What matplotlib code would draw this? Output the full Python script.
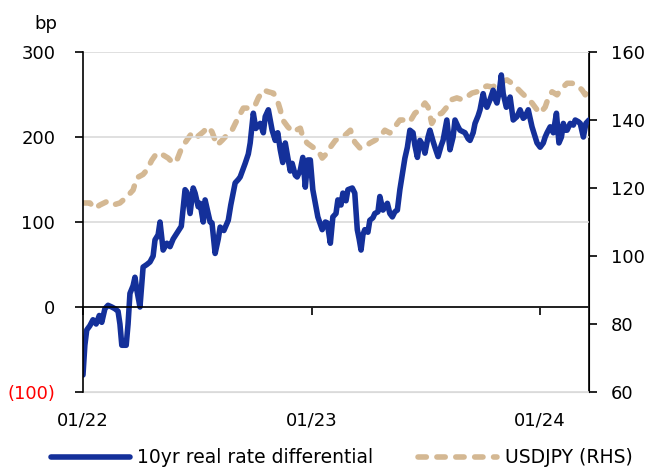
import matplotlib
matplotlib.use("Agg")
import matplotlib.pyplot as plt
import matplotlib.dates as mdates
import numpy as np
import pandas as pd

# 10yr real rate differential (bp), days since 2022-01-01
rate_days = [
    0, 3, 6, 11, 16, 21, 26, 30, 35, 40, 46, 51, 56, 59, 62, 69, 72, 75, 80, 83,
    86, 91, 96, 102, 107, 112, 115, 120, 123, 128, 134, 139, 144, 150, 157, 163,
    166, 171, 176, 179, 184, 187, 192, 195, 200, 203, 206, 211, 216, 219, 225,
    232, 236, 243, 248, 251, 259, 264, 267, 272, 276, 283, 288, 291, 296, 302,
    307, 311, 315, 319, 323, 327, 331, 334, 339, 342, 347, 351, 355, 359, 363,
    367, 371, 375, 382, 387, 390, 395, 399, 404, 407, 412, 415, 420, 423, 430,
    434, 438, 441, 444, 447, 450, 455, 458, 463, 466, 471, 474, 479, 486, 490,
    494, 498, 502, 506, 511, 514, 518, 522, 527, 530, 534, 538, 543, 546, 551,
    554, 559, 562, 567, 572, 575, 581, 586, 591, 594, 599, 602, 610, 615, 618,
    623, 626, 631, 634, 639, 642, 645, 650, 655, 658, 661, 665, 668, 671, 676,
    679, 682, 687, 693, 698, 703, 706, 711, 714, 717, 722, 725, 730, 735, 738,
    741, 746, 751, 756, 760, 764, 767, 770, 773, 778, 783, 786, 791, 794, 799,
    803, 808,
]
rate_values = [
    -80, -45, -27, -22, -15, -20, -10, -18, -2, 2, 0, -2, -5, -20, -45, -45, -20,
    16, 25, 35, 20, 0, 47, 50, 53, 60, 79, 85, 100, 67, 75, 71, 80, 87, 95, 138,
    135, 110, 140, 134, 118, 122, 100, 126, 110, 100, 99, 63, 80, 94, 90, 102,
    120, 146, 150, 153, 169, 180, 193, 228, 210, 216, 205, 224, 232, 208, 196,
    205, 185, 170, 193, 176, 160, 169, 155, 153, 161, 176, 141, 173, 173, 138,
    122, 106, 91, 100, 99, 75, 106, 110, 126, 120, 134, 125, 138, 140, 134, 91,
    80, 67, 85, 91, 88, 102, 105, 110, 112, 130, 114, 122, 110, 106, 112, 114,
    138, 161, 175, 188, 208, 205, 190, 176, 196, 190, 181, 200, 208, 195, 188,
    177, 190, 196, 220, 185, 200, 220, 212, 208, 205, 198, 196, 205, 216, 225,
    232, 251, 240, 235, 244, 255, 245, 240, 255, 273, 251, 235, 240, 247, 220,
    224, 232, 222, 224, 232, 222, 212, 200, 193, 188, 193, 200, 205, 212, 205,
    228, 193, 200, 216, 208, 208, 216, 214, 220, 218, 216, 200, 216, 220,
]

# USDJPY, days since 2022-01-01
fx_days = [
    0, 11, 19, 27, 38, 48, 59, 70, 80, 86, 96, 102, 110, 118, 128, 136, 144,
    150, 158, 166, 174, 182, 192, 200, 206, 214, 222, 230, 238, 246, 256, 267,
    275, 280, 288, 296, 304, 310, 315, 319, 327, 335, 347, 351, 358, 367, 375,
    382, 390, 395, 403, 411, 419, 427, 434, 442, 450, 458, 466, 474, 482, 490,
    498, 506, 514, 522, 530, 538, 546, 551, 557, 565, 573, 581, 589, 597, 605,
    613, 621, 629, 637, 645, 653, 661, 669, 677, 685, 693, 701, 709, 717, 725,
    730, 738, 743, 749, 757, 765, 773, 781, 789, 797, 802, 808,
]
fx_values = [
    115.6, 115.6, 114.0, 115.0, 116.0, 115.0, 115.6, 117.4, 119.4, 123.0, 124.0,
    125.3, 128.2, 130.3, 129.7, 128.8, 127.3, 128.2, 132.0, 134.1, 136.2, 135.0,
    136.5, 138.0, 136.5, 132.6, 134.0, 135.6, 137.0, 140.0, 143.5, 143.5, 144.4,
    146.5, 148.8, 148.3, 147.9, 146.0, 143.0, 140.0, 138.0, 136.5, 137.6, 135.0,
    133.2, 132.0, 131.2, 128.8, 130.3, 132.0, 134.0, 135.0, 135.6, 137.0, 133.5,
    131.8, 132.0, 133.2, 134.0, 135.0, 137.0, 136.2, 138.0, 140.0, 140.0, 139.5,
    142.0, 143.0, 145.0, 143.8, 139.0, 141.5, 142.0, 143.8, 146.0, 146.5, 146.0,
    146.8, 147.9, 148.3, 149.4, 150.0, 149.7, 150.3, 151.3, 151.8, 150.8, 149.4,
    147.9, 146.5, 145.0, 143.0, 142.0, 143.8, 146.5, 148.3, 147.4, 149.4, 150.8,
    150.8, 150.3, 148.8, 147.4, 149.4,
]

left_ticks = [-100, 0, 100, 200, 300]
left_labels = ["(100)", "0", "100", "200", "300"]
right_ticks = [60, 80, 100, 120, 140, 160]
x_tick_dates = ["2022-01-01", "2023-01-01", "2024-01-01"]
x_tick_labels = ["01/22", "01/23", "01/24"]

BLUE = "#14309A"
TAN = "#D4B893"
GRID = "#DADADA"

start = pd.Timestamp("2022-01-01")
rate_dates = start + pd.to_timedelta(rate_days, unit="D")
fx_dates = start + pd.to_timedelta(fx_days, unit="D")

plt.rcParams["font.family"] = ["DejaVu Sans"]
plt.rcParams["font.size"] = 13

fig = plt.figure(figsize=(6.57, 4.71), dpi=100)
ax = fig.add_axes([0.1263, 0.1677, 0.7702, 0.7219])
ax2 = ax.twinx()

ax2.plot(fx_dates, fx_values, color=TAN, lw=4, linestyle=(0, (1.5, 1.9)),
         dash_capstyle="round", label="USDJPY (RHS)")
ax.plot(rate_dates, rate_values, color=BLUE, lw=4, solid_capstyle="round",
        solid_joinstyle="round", label="10yr real rate differential")

ax.set_zorder(ax2.get_zorder() + 1)
ax.patch.set_visible(False)

ax.set_xlim(rate_dates[0], rate_dates[-1])
ax.set_ylim(-100, 300)
ax2.set_ylim(60, 160)

ax.set_yticks(left_ticks)
ax.set_yticklabels(left_labels)
ax.get_yticklabels()[0].set_color("#FF0000")
ax2.set_yticks(right_ticks)

for a in (ax, ax2):
    a.spines["top"].set_visible(False)
ax2.spines["bottom"].set_visible(False)
ax2.spines["left"].set_visible(False)

ax.tick_params(axis="y", direction="out", length=6, width=1.2, pad=14)
ax2.tick_params(axis="y", direction="out", length=6, width=1.2, pad=10)
ax.spines["left"].set_linewidth(1.2)
ax2.spines["right"].set_linewidth(1.2)

# zero line carries the year ticks
ax.spines["bottom"].set_position(("data", 0))
ax.spines["bottom"].set_linewidth(1.2)
tick_nums = mdates.date2num(pd.to_datetime(x_tick_dates))
ax.set_xticks(tick_nums)
ax.tick_params(axis="x", direction="out", length=6, width=1.2, labelbottom=False)

# date labels under the plot area
sec = ax.secondary_xaxis("bottom")
sec.set_xticks(tick_nums)
sec.set_xticklabels(x_tick_labels)
sec.tick_params(length=0, pad=14)
sec.spines["bottom"].set_color(GRID)

ax.yaxis.grid(True, color=GRID, lw=1.2)
ax.set_axisbelow(True)

fig.text(0.07, 0.949, "bp", ha="center", va="center", fontsize=13)

h1, l1 = ax.get_legend_handles_labels()
h2, l2 = ax2.get_legend_handles_labels()
fig.legend(h1 + h2, l1 + l2, loc="center", bbox_to_anchor=(0.52, 0.028),
           ncol=2, frameon=False, handlelength=4.2, handletextpad=0.4,
           columnspacing=2.4, fontsize=13.5)

fig.savefig("out.png", dpi=100)
